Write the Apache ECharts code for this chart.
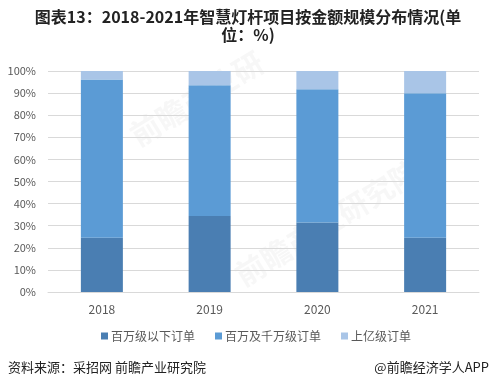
<!DOCTYPE html>
<html>
<head>
<meta charset="utf-8">
<script src="https://cdn.jsdelivr.net/npm/echarts@6/dist/echarts.min.js"></script>
<style>html,body{margin:0;padding:0;background:#fff;}#c{width:497px;height:388px;}</style>
</head>
<body>
<div id="c"></div>
<script>
var categories = ['2018', '2019', '2020', '2021'];
var seriesNames = ['百万级以下订单', '百万及千万级订单', '上亿级订单'];
var below1m = [24.5, 34.4, 31.4, 24.5];
var m1to10 = [71.7, 59.1, 60.3, 65.4];
var above100m = [3.8, 6.5, 8.3, 10.1];
var yTicks = [0, 10, 20, 30, 40, 50, 60, 70, 80, 90, 100];

var colors = ['#4a7eb2', '#5b9bd5', '#a9c5e7'];
var chart = echarts.init(document.getElementById('c'));
var font = '"Microsoft YaHei","Noto Sans CJK SC",sans-serif';
function mk(name, data, i) {
  return {
    name: name, type: 'bar', stack: 'total', data: data,
    barWidth: 42, itemStyle: {color: colors[i]}, silent: true
  };
}
chart.setOption({
  animation: false,
  graphic: [
    {type: 'text', x: 248, y: 8, style: {text: '图表13：2018-2021年智慧灯杆项目按金额规模分布情况(单\n位：%)', align: 'center', verticalAlign: 'top', lineHeight: 18, fill: '#222', font: 'bold 16px ' + font}},
    {type: 'text', left: 8, top: 361, style: {text: '资料来源：采招网 前瞻产业研究院', fill: '#222', font: '13px ' + font}},
    {type: 'text', right: 8, top: 361, style: {text: '@前瞻经济学人APP', fill: '#222', font: '13px ' + font}},
    {type: 'text', x: 125, y: 125, rotation: 0.55, style: {text: '前瞻产业研', fill: 'rgba(190,190,190,0.12)', font: 'bold 30px ' + font}},
    {type: 'text', x: 230, y: 265, rotation: 0.55, style: {text: '前瞻产业研究院', fill: 'rgba(190,190,190,0.12)', font: 'bold 30px ' + font}}
  ],
  legend: {
    data: seriesNames, bottom: 41, left: 96,
    itemWidth: 7, itemHeight: 7, itemGap: 20, icon: 'rect',
    textStyle: {fontSize: 12, color: '#595959', fontFamily: font, padding: [0, 0, 0, -2]}
  },
  grid: {left: 48, right: 18, top: 71, bottom: 96},
  xAxis: {
    type: 'category', data: categories,
    axisLine: {lineStyle: {color: '#d9d9d9'}},
    axisTick: {show: false},
    axisLabel: {fontSize: 12, color: '#595959', margin: 11, fontFamily: font}
  },
  yAxis: {
    type: 'value', min: 0, max: 100, interval: 10,
    axisLine: {show: false}, axisTick: {show: false},
    splitLine: {lineStyle: {color: '#d9d9d9'}},
    axisLabel: {fontSize: 11, color: '#595959', margin: 12, fontFamily: font,
      formatter: function (v) { return yTicks.indexOf(v) >= 0 ? v + '%' : ''; }}
  },
  series: [mk(seriesNames[0], below1m, 0), mk(seriesNames[1], m1to10, 1), mk(seriesNames[2], above100m, 2)]
});
</script>
</body>
</html>
